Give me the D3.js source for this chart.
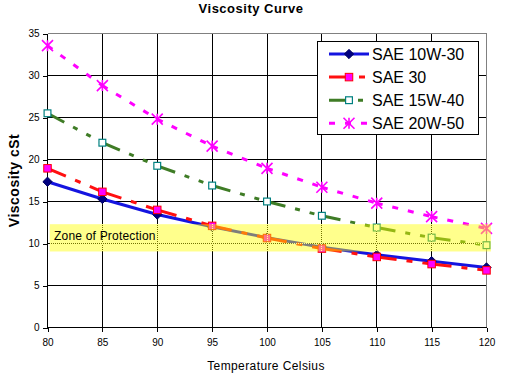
<!DOCTYPE html>
<html><head><meta charset="utf-8">
<script src="https://cdn.jsdelivr.net/npm/d3@7"></script>
<style>body{margin:0;background:#fff}svg{display:block;font-family:Arial,"Liberation Sans",sans-serif}</style>
</head><body><svg id="c" width="508" height="388"></svg>
<script>
const temps = [80, 85, 90, 95, 100, 105, 110, 115, 120];
const sae10w30 = [17.35, 15.3, 13.45, 12.0, 10.7, 9.55, 8.65, 7.9, 7.15];
const sae30    = [18.95, 16.15, 14.0, 12.1, 10.65, 9.4, 8.4, 7.55, 6.8];
const sae15w40 = [25.5, 22.0, 19.25, 16.9, 15.0, 13.3, 11.9, 10.7, 9.8];
const sae20w50 = [33.55, 28.8, 24.8, 21.6, 18.95, 16.7, 14.8, 13.2, 11.8];
const seriesNames = ["SAE 10W-30", "SAE 30", "SAE 15W-40", "SAE 20W-50"];
const xTicks = [80, 85, 90, 95, 100, 105, 110, 115, 120];
const yTicks = [0, 5, 10, 15, 20, 25, 30, 35];
const zoneRange = [9.05, 12.3];
const zoneTemps = [80.2, 120.4];
const zoneLabel = "Zone of Protection";

const svg = d3.select("#c");
const x = d3.scaleLinear().domain([80, 120]).range([47.5, 486.5]);
const y = d3.scaleLinear().domain([0, 35]).range([327.5, 33.5]);

const styles = [
  {color:"#1414e0", dash:null, marker:"diamond"},
  {color:"#ff1010", dash:"20,10,6,10", marker:"square"},
  {color:"#3f7c26", dash:"19,10,5,10,5,10", marker:"hollow"},
  {color:"#ff00ff", dash:"6,10", marker:"star"}
];
const data = [sae10w30, sae30, sae15w40, sae20w50];

// grid
const g = svg.append("g").attr("shape-rendering","crispEdges");
g.selectAll(".hg").data(yTicks.filter(d=>d>0 && d<35)).join("line")
  .attr("x1", x(80)).attr("x2", x(120)).attr("y1", d=>y(d)).attr("y2", d=>y(d))
  .attr("stroke","#000").attr("stroke-width",1);
g.selectAll(".vg").data(xTicks.filter(d=>d>80 && d<120)).join("line")
  .attr("y1", y(0)).attr("y2", y(35)).attr("x1", d=>x(d)).attr("x2", d=>x(d))
  .attr("stroke","#000").attr("stroke-width",1);
g.append("line").attr("x1",x(80)).attr("x2",x(120)).attr("y1",y(35)).attr("y2",y(35)).attr("stroke","#808080");
g.append("line").attr("x1",x(120)).attr("x2",x(120)).attr("y1",y(35)).attr("y2",y(0)).attr("stroke","#808080");

// axes
const ax = svg.append("g").attr("transform",`translate(0,${y(0)})`)
  .call(d3.axisBottom(x).tickValues(xTicks).tickSize(4).tickPadding(7));
const ay = svg.append("g").attr("transform",`translate(${x(80)},0)`)
  .call(d3.axisLeft(y).tickValues(yTicks).tickSize(5).tickPadding(3));
[ax, ay].forEach(a=>{
  a.select(".domain").attr("stroke","#000").attr("shape-rendering","crispEdges");
  a.selectAll(".tick line").attr("stroke","#000").attr("shape-rendering","crispEdges");
  a.selectAll("text").attr("font-size","10px").attr("fill","#000").attr("font-family","Arial, 'Liberation Sans', sans-serif");
});
ax.select(".domain").attr("d", `M${x(80)},0H${x(120)}`);
ay.select(".domain").attr("d", `M0,${y(0)}V${y(35)}`);

function drawMarker(sel, type, color, size) {
  if (type === "diamond") {
    sel.append("path").attr("d", d3.symbol(d3.symbolDiamond2, size*size*0.55)())
      .attr("fill","#000080").attr("stroke","#000060").attr("stroke-width",1);
  } else if (type === "square") {
    const s = size*0.75;
    sel.append("rect").attr("x",-s/2).attr("y",-s/2).attr("width",s).attr("height",s)
      .attr("fill","#ff00ff").attr("stroke","#ff0000").attr("stroke-width",1);
  } else if (type === "hollow") {
    const s = size*0.68;
    sel.append("rect").attr("x",-s/2).attr("y",-s/2).attr("width",s).attr("height",s)
      .attr("fill","#fff").attr("stroke","#008080").attr("stroke-width",1.2);
  } else if (type === "star") {
    const s = size*0.55;
    sel.append("path").attr("d",`M${-s},${-s}L${s},${s}M${-s},${s}L${s},${-s}M0,${-s}V${s}`)
      .attr("stroke","#ff00ff").attr("stroke-width",1.6).attr("fill","none");
  }
}

const lineG = svg.append("g");
data.forEach((vals, si) => {
  const st = styles[si];
  const sg = lineG.append("g");
  for (let i = 0; i < temps.length - 1; i++) {
    sg.append("line")
      .attr("x1", x(temps[i])).attr("y1", y(vals[i]))
      .attr("x2", x(temps[i+1])).attr("y2", y(vals[i+1]))
      .attr("stroke", st.color).attr("stroke-width", 3)
      .attr("stroke-dasharray", st.dash);
  }
  temps.forEach((t, i) => {
    const m = sg.append("g").attr("transform", `translate(${x(t)},${y(vals[i])})`);
    drawMarker(m, st.marker, st.color, 10);
  });
});

const zx0 = x(zoneTemps[0]), zx1 = x(zoneTemps[1]);
svg.append("rect").attr("x", zx0).attr("width", zx1 - zx0)
  .attr("y", y(zoneRange[1])).attr("height", y(zoneRange[0]) - y(zoneRange[1]))
  .attr("fill", "#ffff00").attr("fill-opacity", 0.45);
const dg = svg.append("g").attr("shape-rendering","crispEdges");
dg.selectAll("line.vd").data(xTicks.filter(d=>d>80 && d<120)).join("line")
  .attr("x1", d=>x(d)).attr("x2", d=>x(d)).attr("y1", y(zoneRange[1])).attr("y2", y(zoneRange[0]))
  .attr("stroke","#ffff90").attr("stroke-dasharray","1,1");
dg.append("line").attr("x1", zx0).attr("x2", x(120)).attr("y1", y(10)).attr("y2", y(10))
  .attr("stroke","#ffff90").attr("stroke-dasharray","1,1");
svg.append("text").attr("x", 54).attr("y", 240).attr("font-size","12px").attr("letter-spacing","0.2px").attr("fill","#000")
  .text(zoneLabel);

const lg = svg.append("g");
lg.append("rect").attr("x",317.5).attr("y",41.5).attr("width",161).attr("height",93)
  .attr("fill","#fff").attr("stroke","#000").attr("stroke-width",1).attr("shape-rendering","crispEdges");
seriesNames.forEach((name, i) => {
  const cy = 54 + i*23.1;
  const st = styles[i];
  lg.append("line").attr("x1",329).attr("x2",369).attr("y1",cy).attr("y2",cy)
    .attr("stroke",st.color).attr("stroke-width",3).attr("stroke-dasharray",st.dash);
  const m = lg.append("g").attr("transform",`translate(349,${cy})`);
  drawMarker(m, st.marker, st.color, 10);
  lg.append("text").attr("x",372).attr("y",cy+6).attr("font-size","16px").attr("fill","#000").text(name);
});

svg.append("text").attr("x",251).attr("y",12.5).attr("text-anchor","middle")
  .attr("font-size","13px").attr("letter-spacing","0.5px").attr("font-weight","bold").text("Viscosity Curve");
svg.append("text").attr("x",266).attr("y",370).attr("text-anchor","middle")
  .attr("font-size","12px").attr("letter-spacing","0.4px").text("Temperature Celsius");
svg.append("text").attr("transform",`translate(19,${(y(0)+y(35))/2}) rotate(-90)`)
  .attr("text-anchor","middle").attr("font-size","14px").attr("letter-spacing","0.5px").attr("font-weight","bold").text("Viscosity cSt");
</script></body></html>
